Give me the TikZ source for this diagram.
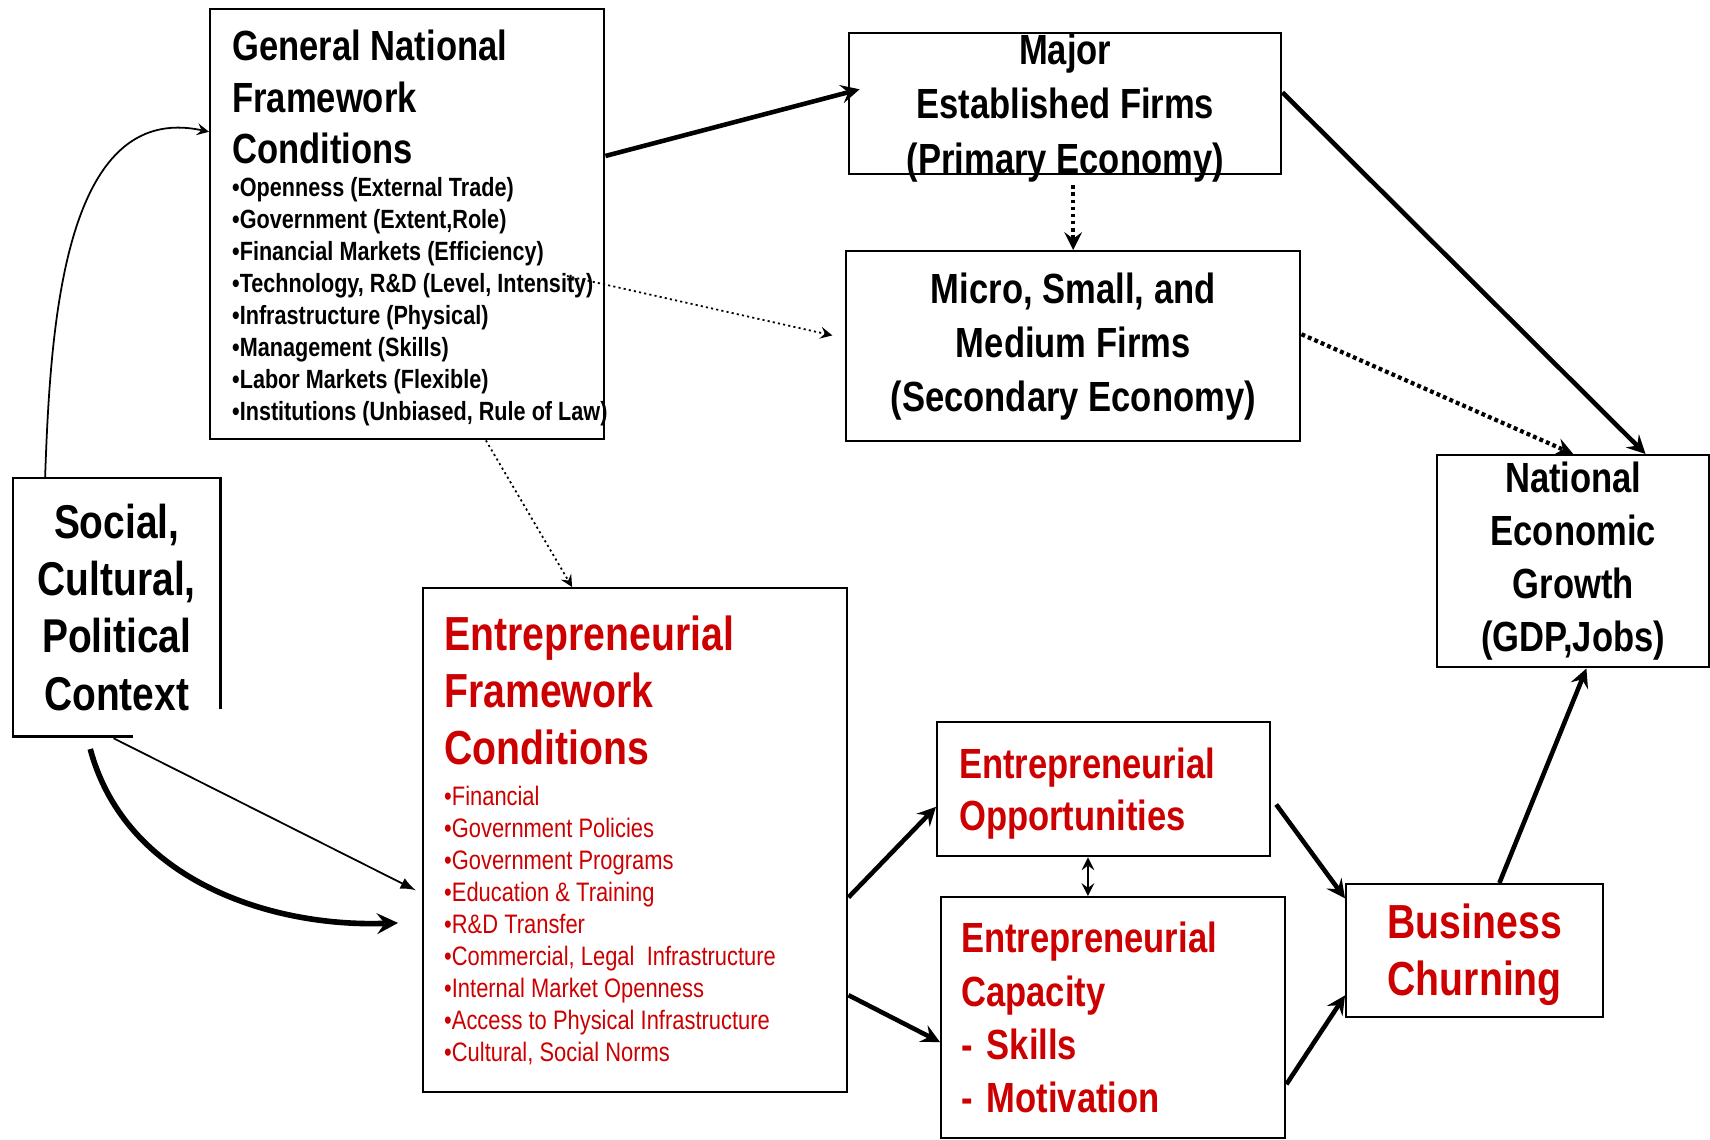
\documentclass[tikz,border=0pt]{standalone}
\usepackage{fontspec}
\setmainfont{Liberation Sans}[FakeStretch=0.82]
\usetikzlibrary{shapes,arrows,calc,positioning}

\definecolor{efcred}{RGB}{204,0,0}
\newcommand\fsz[2]{\fontsize{#1}{#2}\selectfont\spaceskip=0.23em\relax}
\newcommand\itm[1]{\mbox{•#1}}

\begin{document}
\begin{tikzpicture}[x=0.1mm,y=-0.1mm,
  panel/.style={draw,line width=0.7pt,inner sep=0pt,anchor=north west,font=\bfseries},
  bigarrow/.style={-stealth,line width=1.3pt},
  thinarrow/.style={-stealth,line width=0.5pt},
  dotthin/.style={-stealth,line width=0.5pt,dash pattern=on 0.6pt off 0.9pt},
  dotthick/.style={-stealth,line width=1.2pt,dash pattern=on 1.1pt off 0.9pt}]

\useasboundingbox (0,0) rectangle (1710,1139);

% upper half: framework conditions and firms
\node[panel,minimum width=39.4mm,minimum height=43mm,inner xsep=2.2mm,text width=35mm,align=left](gnfc) at (209,8) {%
{\fsz{12}{14.6}\rule{0pt}{11pt}General National\\Framework\\Conditions\par}\vspace{0.4pt}%
{\fsz{7.5}{9.1}\itm{Openness (External Trade)}\\\itm{Government (Extent,Role)}\\\itm{Financial Markets (Efficiency)}\\\itm{Technology, R\&D (Level, Intensity)}\\
\itm{Infrastructure (Physical)}\\\itm{Management (Skills)}\\\itm{Labor Markets (Flexible)}\\\itm{Institutions (Unbiased, Rule of Law)}\par}};

\node[panel,minimum width=43.2mm,minimum height=14.1mm](major) at (848,32) {};
\node[align=center,font=\bfseries\fsz{12}{15.5}](majortxt) at ([yshift=-0.4mm]major.center) {Major\\Established Firms\\(Primary Economy)};

\node[panel,minimum width=45.4mm,minimum height=19mm,align=center,font=\bfseries\fsz{12}{15.4}](micro) at (845,250) {Micro, Small, and\\Medium Firms\\(Secondary Economy)};

\node[panel,minimum width=27.2mm,minimum height=21.2mm,align=center,font=\bfseries\fsz{12}{15.1}](nat) at (1436,454) {National\\Economic\\Growth\\(GDP,Jobs)};

% context box, its frame is broken at the lower right
\node[panel,draw=none,minimum width=20.5mm,minimum height=25.6mm,align=center,font=\bfseries\fsz{13.5}{16.3}](soc) at (13,478) {Social,\\Cultural,\\Political\\Context};
\draw[line width=0.7pt] ([yshift=2.7mm]soc.south east) -- (soc.north east) -- (soc.north west) -- (soc.south west) -- ([xshift=12mm]soc.south west);

% lower half: entrepreneurial side
\node[panel,text=efcred,minimum width=42.4mm,minimum height=50.4mm,inner xsep=2.1mm,text width=38.2mm,align=left](efc) at (422,587) {%
{\fsz{13.6}{16.3}Entrepreneurial\\Framework\\Conditions\par}\vspace{2.4pt}%
{\mdseries\fsz{7.6}{9.1}\itm{Financial}\\\itm{Government Policies}\\\itm{Government Programs}\\\itm{Education \& Training}\\\itm{R\&D Transfer}\\
\itm{Commercial, Legal~ Infrastructure}\\\itm{Internal Market Openness}\\\itm{Access to Physical Infrastructure}\\\itm{Cultural, Social Norms}\par}};

\node[panel,text=efcred,minimum width=33.3mm,minimum height=13.4mm,inner xsep=2.2mm,text width=28.9mm,align=left,font=\bfseries\fsz{12}{14.6}](opp) at (936,721) {\rule{0pt}{11.1pt}Entrepreneurial\\Opportunities};

\node[panel,text=efcred,minimum width=34.4mm,minimum height=24.1mm,inner xsep=2mm,text width=30.4mm,align=left,font=\bfseries\fsz{12}{15.2}](cap) at (940,896) {Entrepreneurial\\Capacity\\- Skills\\- Motivation};

\node[panel,text=efcred,minimum width=25.7mm,minimum height=13.3mm,align=left,font=\bfseries\fsz{13.6}{16.4}](bus) at (1345,883) {\rule{0pt}{12.2pt}Business\\Churning};

\coordinate (tech) at (567,276);

% connectors
\draw[thinarrow] (soc.119) to[out=88,in=168] (gnfc.155);
\draw[bigarrow,shorten >=-1.2mm] (gnfc.19) -- (major.177);
\draw[bigarrow] (major.3) -- (nat.56);
\draw[dotthick,shorten <=1mm] (major.south -| micro.north) -- (micro.north);
\draw[dotthin,shorten >=1.3mm] (tech) -- (micro.178);
\draw[dotthick] (micro.3) -- (nat.north);
\draw[dotthin] (gnfc.-70) -- (efc.104);

\draw[-latex,line width=0.5pt,shorten <=0.4mm,shorten >=0.7mm] (soc.-93) -- (efc.194);
\draw[bigarrow,line width=1.6pt,shorten <=1.3mm,shorten >=2.4mm] (soc.-103) to[out=-75,in=182] (efc.201);

\draw[bigarrow] (efc.-15) -- (opp.186);
\draw[bigarrow] (efc.-36) -- (cap.188);
\draw[stealth-stealth,line width=0.6pt] (opp.-103) -- (opp.-103 |- cap.north);
\draw[bigarrow,shorten <=0.8mm] (opp.-3) -- (bus.158);
\draw[bigarrow] (cap.-21) -- (bus.199);
\draw[bigarrow] (bus.70) -- (nat.-83);

\end{tikzpicture}
\end{document}
